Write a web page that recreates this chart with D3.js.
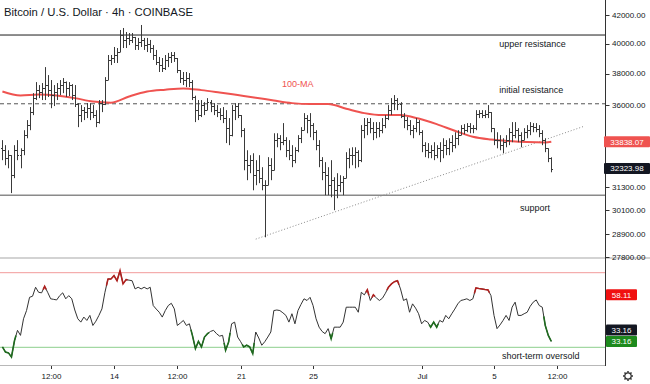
<!DOCTYPE html>
<html><head><meta charset="utf-8">
<script src="https://cdn.jsdelivr.net/npm/d3@7"></script>
<style>html,body{margin:0;padding:0;background:#fff;} svg{display:block;font-family:"Liberation Sans",Arial,sans-serif;}</style>
</head><body><svg id="c" width="650" height="384"></svg>
<script>
// ---------- data ----------
const title = "Bitcoin / U.S. Dollar · 4h · COINBASE";
const firstBar = "2021-06-07T20:00:00Z";   // 4h bars
const barHours = 4;
const open = [33500,33350,32900,33070,31960,33350,33070,33350,34220,34810,35590,36450,36950,36830,37080,37270,36950,36640,36830,37080,37270,37460,37080,37270,36640,36080,35410,35710,35590,35830,35590,35410,34990,36140,36080,37590,38900,39030,39230,39430,40590,40250,40390,40250,40460,39900,40110,40250,39900,39970,39700,39230,38770,38565,38370,38900,39100,39230,39030,38240,37720,37590,37720,37460,36520,35710,35410,36020,35710,36200,35960,35710,35590,35410,35230,34630,34220,35710,35960,35410,34510,32790,32510,32790,31960,32230,31800,31420,31420,32510,32230,33930,34040,33810,33930,33350,33070,32790,33350,34040,34510,35230,35110,34810,34390,33640,32790,32120,31960,31420,31690,31150,31420,31580,31800,32900,33070,33070,33240,32790,34510,34810,34990,34630,34390,34630,34510,34810,35230,35710,36140,36330,36080,35350,35110,34810,34510,34630,34990,34390,33640,33350,33240,33350,33070,33460,33350,33640,33460,33810,33640,34040,34220,34630,34510,34750,34630,34630,35470,35530,35410,35470,35590,34630,33930,33930,33640,33810,33930,34390,34220,34510,34220,33930,34390,34510,34750,34690,34570,34330,33930,33460,32900];
const high = [33930,33640,33350,33070,33640,33930,33460,34510,35110,35900,36760,37460,37270,37400,38430,37910,37590,37270,37400,37590,37720,37500,37460,37330,37270,36140,36020,35900,36140,36140,36020,35710,36330,36330,37780,39230,39230,39770,39700,40940,41080,40800,40730,40730,40460,40390,41290,40390,40390,40250,39900,39570,39100,39030,39230,39370,39430,39430,39030,38240,38110,38110,38040,37590,36600,36330,36330,36200,36450,36330,36140,36020,35830,35900,35710,35230,36020,36140,36140,35410,34630,33350,33070,33180,32790,33070,32400,31690,32960,32900,34330,34330,34220,34930,34100,33930,33640,33520,34220,34690,35530,35410,35530,34930,34510,33930,32960,32680,32400,32790,31850,32070,31960,31910,33240,33460,33520,33520,33350,34810,35230,35230,35230,34990,34990,34990,35230,35410,36020,36450,36640,36450,36200,35530,35290,35110,34810,35230,35110,34510,33810,33760,33640,33810,33640,33810,34040,33930,34040,34220,34390,34510,34810,34870,34930,34930,34810,35710,35710,35710,35710,36020,35590,34630,34390,34220,34040,34220,34630,34990,34990,34630,34390,34630,34810,34990,34930,34930,34810,34510,34040,33460,32950];
const low = [32790,32510,32340,31000,31800,32790,32340,33070,34040,34510,35410,36330,36450,36330,36330,36520,35830,35960,36330,36640,36760,36520,36580,36330,35900,34690,34990,35110,35230,35110,35230,34690,34900,35590,36020,37590,38565,38700,38700,39430,39700,39700,39900,40040,39570,39570,39770,39570,39430,39370,38900,38565,38110,38110,38240,38430,38700,38770,38040,37400,37270,37140,37140,36330,34990,35110,35290,35410,35710,35590,35410,35290,35110,34930,33760,33640,34150,35110,35230,34100,32230,31690,32070,31150,31420,31530,31150,28750,31420,31690,32230,33520,33350,33640,32960,32790,32400,32620,33240,33760,34510,34330,34100,33930,33350,32400,31690,30890,30890,30780,30110,30730,31050,30890,31800,32340,32510,32340,32400,32680,34040,34220,34330,33930,34040,34100,34330,34630,35110,35410,35710,35710,35230,34630,34510,34220,34040,34390,34220,33240,32960,32900,32900,32790,32900,32680,32900,33070,33070,33240,33460,33640,34220,34270,34390,34330,34330,34510,35230,35230,35230,35230,34390,33640,33460,33350,33180,33520,33640,33810,34040,33810,33520,33930,34040,34220,34390,34390,34100,33640,33240,32680,32120];
const close = [33350,32900,33070,31960,33350,33070,33350,34220,34810,35590,36450,36950,36830,37080,37270,36950,36640,36830,37080,37270,37460,37080,37270,36640,36080,35410,35710,35590,35830,35590,35410,34990,36140,36080,37590,38900,39030,39230,39430,40590,40250,40390,40250,40460,39900,40110,40250,39900,39970,39700,39230,38770,38565,38370,38900,39100,39230,39030,38240,37720,37590,37720,37460,36520,35710,35410,36020,35710,36200,35960,35710,35590,35410,35230,34630,34220,35710,35960,35410,34510,32790,32510,32790,31960,32230,31800,31420,31420,32510,32230,33930,34040,33810,33930,33350,33070,32790,33350,34040,34510,35230,35110,34810,34390,33640,32790,32120,31960,31420,31690,31150,31420,31580,31800,32900,33070,33070,33240,32790,34510,34810,34990,34630,34390,34630,34510,34810,35230,35710,36140,36330,36080,35350,35110,34810,34510,34630,34990,34390,33640,33350,33240,33350,33070,33460,33350,33640,33460,33810,33640,34040,34220,34630,34510,34750,34630,34630,35470,35530,35410,35470,35590,34630,33930,33930,33640,33810,33930,34390,34220,34510,34220,33930,34390,34510,34750,34690,34570,34330,33930,33460,32900,32323.98];
// 100-period moving average, read at every 6th bar
const maBars = [0,6,12,18,24,30,36,42,48,54,60,66,72,78,84,90,96,102,108,114,120,126,132,138,144,150,156,162,168,174,180,182];
const maValues = [36860,36610,36670,36610,36450,36240,36170,36550,36860,36980,37060,36950,36800,36640,36480,36300,36140,36080,36080,35800,35530,35410,35410,35200,34870,34480,34130,33970,33880,33820,33800,33838.07];
// RSI, one value per bar
const rsi = [30.2,27.5,27.0,24.8,33.5,39.1,36.4,45.3,49.7,56.8,57.4,62.2,59.5,59.2,62.7,59.5,56.0,55.7,55.4,57.7,59.2,56.0,57.7,56.0,50.0,45.3,43.5,46.2,44.4,47.1,41.7,44.0,47.1,50.6,59.5,66.6,66.6,68.4,65.7,71.1,64.0,66.3,66.0,65.7,61.3,62.2,61.3,62.2,61.3,62.2,52.4,50.5,48.8,46.2,49.7,52.4,53.6,50.6,41.7,43.0,44.4,41.7,42.6,36.4,29.3,33.2,30.2,35.5,37.3,38.5,39.1,37.3,36.0,36.4,28.4,32.8,42.6,43.5,35.5,33.0,30.2,31.1,30.2,26.6,38.2,35.0,31.1,33.0,35.5,38.2,49.7,50.0,49.7,48.5,47.1,43.5,48.0,42.6,49.7,53.0,56.0,55.1,56.8,52.4,45.3,40.8,38.5,37.3,40.0,34.6,40.8,40.8,40.8,43.5,51.5,51.5,51.5,51.5,48.8,59.5,58.1,60.8,55.1,58.1,56.5,55.1,56.3,59.0,62.2,64.0,65.2,65.7,61.3,55.1,56.0,48.8,53.3,51.0,48.0,42.6,44.4,43.5,40.8,43.5,40.8,44.4,43.5,47.1,45.3,48.0,50.5,53.3,55.1,55.5,56.0,55.1,56.0,61.8,61.5,61.3,61.0,60.8,57.7,47.1,40.0,42.0,44.4,47.1,44.4,51.5,54.2,47.1,47.1,48.0,48.8,52.0,54.2,55.4,52.4,51.5,41.7,36.4,33.16];
const rsiHot = [[14,14],[35,41],[121,121],[123,123],[128,131],[157,161]];
const rsiCold = [[0,4],[63,68],[74,75],[80,83],[109,109],[142,144],[180,182]];
const rsiUpper = 70, rsiLower = 30;
const rsiSignal = 58.11;
// levels
const upperResistance = 40590, initialResistance = 36100, supportLevel = 30890;
const trendStart = {t:"2021-06-21T20:00:00Z", p:28660}, trendEnd = {t:"2021-07-10T00:00:00Z", p:34750};
const priceTicks = [42000,40000,38000,36000,31300,30100,28900,27800];
const timeTicks = ["2021-06-10T12:00:00Z","2021-06-14T00:00:00Z","2021-06-17T12:00:00Z","2021-06-21T00:00:00Z","2021-06-25T00:00:00Z","2021-07-01T00:00:00Z","2021-07-05T00:00:00Z","2021-07-08T12:00:00Z"];
const timeLabels = ["12:00","14","12:00","21","25","Jul","5","12:00"];
const notes = [
  {text:"upper resistance", t:"2021-07-05T07:00:00Z", p:39770, color:"#131722"},
  {text:"initial resistance", t:"2021-07-05T07:00:00Z", p:36780, color:"#131722"},
  {text:"support", t:"2021-07-06T10:30:00Z", p:30070, color:"#131722"},
  {text:"100-MA", t:"2021-06-23T06:40:00Z", p:37150, color:"#ef5350"}
];

// ---------- layout ----------
const svg = d3.select("#c");
const axisX = 605.5;
const priceTop = 0, priceBottom = 258, rsiTop = 259, rsiBottom = 366;
const x = d3.scaleUtc().domain([new Date("2021-06-14T00:00:00Z"), new Date("2021-07-05T00:00:00Z")]).range([114, 494]);
const y = d3.scaleLog().domain([27800, 42000]).range([257, 15]);
const yr = d3.scaleLinear().domain([30, 70]).range([347.3, 272.7]);
const t0 = new Date(firstBar).getTime();
const bt = i => new Date(t0 + i * barHours * 3600e3);
const fmt = d3.format(".2f");

svg.append("rect").attr("width",650).attr("height",384).attr("fill","#fff");
const defs = svg.append("defs");
defs.append("clipPath").attr("id","cp").append("rect").attr("x",0).attr("y",priceTop).attr("width",axisX).attr("height",priceBottom-priceTop);
defs.append("clipPath").attr("id","cr").append("rect").attr("x",0).attr("y",rsiTop).attr("width",axisX).attr("height",rsiBottom-rsiTop);

const gp = svg.append("g").attr("clip-path","url(#cp)");
// levels
gp.append("line").attr("x1",0).attr("x2",axisX).attr("y1",y(upperResistance)).attr("y2",y(upperResistance)).attr("stroke","#1c1c1c").attr("stroke-width",1);
gp.append("line").attr("x1",0).attr("x2",axisX).attr("y1",y(initialResistance)).attr("y2",y(initialResistance)).attr("stroke","#555").attr("stroke-width",1).attr("stroke-dasharray","4,3");
gp.append("line").attr("x1",0).attr("x2",axisX).attr("y1",y(supportLevel)).attr("y2",y(supportLevel)).attr("stroke","#8a8a8a").attr("stroke-width",1.6);
gp.append("line").attr("x1",x(new Date(trendStart.t))).attr("y1",y(trendStart.p)).attr("x2",x(new Date(trendEnd.t))).attr("y2",y(trendEnd.p))
  .attr("stroke","#8a8a8a").attr("stroke-width",1).attr("stroke-dasharray","1,2");
// MA
gp.append("path").datum(maBars.map((b,k)=>[x(bt(b)), y(maValues[k])]))
  .attr("d", d3.line().curve(d3.curveMonotoneX)).attr("fill","none").attr("stroke","#ef5350").attr("stroke-width",2);
// bars
let d = "";
close.forEach((c,i)=>{
  const xi = Math.round(x(bt(i))) + 0.5;
  const yo = Math.round(y(open[i])) + 0.5, yc = Math.round(y(c)) + 0.5;
  d += `M${xi},${y(high[i])}V${y(low[i])}M${xi-1.5},${yo}H${xi}M${xi},${yc}H${xi+1.5}`;
});
gp.append("path").attr("d",d).attr("stroke","#3a3a3a").attr("stroke-width",1).attr("fill","none");
// notes
notes.forEach(n=>{
  svg.append("text").attr("x",x(new Date(n.t))).attr("y",y(n.p)).attr("font-size",9).attr("fill",n.color).text(n.text);
});

// RSI pane
const gr = svg.append("g").attr("clip-path","url(#cr)");
gr.append("line").attr("x1",0).attr("x2",axisX).attr("y1",yr(rsiUpper)).attr("y2",yr(rsiUpper)).attr("stroke","#f29a9a").attr("stroke-width",1);
gr.append("line").attr("x1",0).attr("x2",axisX).attr("y1",yr(rsiLower)).attr("y2",yr(rsiLower)).attr("stroke","#8ccf8c").attr("stroke-width",1);
const rpts = rsi.map((v,i)=>[x(bt(i)), yr(v)]);
gr.append("path").datum(rpts).attr("d", d3.line()).attr("fill","none").attr("stroke","#333").attr("stroke-width",1);
function seg(r){
  const [a,b] = r; const pts = [];
  if (a>0) pts.push([(rpts[a-1][0]+rpts[a][0])/2,(rpts[a-1][1]+rpts[a][1])/2]);
  for (let i=a;i<=b;i++) pts.push(rpts[i]);
  if (b<rpts.length-1) pts.push([(rpts[b+1][0]+rpts[b][0])/2,(rpts[b+1][1]+rpts[b][1])/2]);
  return pts;
}
rsiHot.forEach(r=>gr.append("path").datum(seg(r)).attr("d",d3.line()).attr("fill","none").attr("stroke","#b0201e").attr("stroke-width",1.6));
rsiCold.forEach(r=>gr.append("path").datum(seg(r)).attr("d",d3.line()).attr("fill","none").attr("stroke","#1f6b1f").attr("stroke-width",1.6));
svg.append("text").attr("x",502).attr("y",yr(rsiLower)+12).attr("font-size",9).attr("fill","#131722").text("short-term oversold");

// frame lines
svg.append("line").attr("x1",0).attr("x2",650).attr("y1",priceBottom).attr("y2",priceBottom).attr("stroke","#c4c4c4").attr("stroke-width",1.6);
svg.append("line").attr("x1",0).attr("x2",axisX).attr("y1",rsiBottom-0.5).attr("y2",rsiBottom-0.5).attr("stroke","#b8b8b8").attr("stroke-width",1);
svg.append("line").attr("x1",axisX).attr("x2",axisX).attr("y1",0).attr("y2",rsiBottom).attr("stroke","#333").attr("stroke-width",1);

// price axis
const pa = svg.append("g");
priceTicks.forEach(p=>{
  pa.append("line").attr("x1",axisX).attr("x2",axisX+4).attr("y1",Math.round(y(p))+0.5).attr("y2",Math.round(y(p))+0.5).attr("stroke","#333");
  pa.append("text").attr("x",612).attr("y",y(p)).attr("dy","0.35em").attr("font-size",8).attr("fill","#131722").text(fmt(p));
});
function box(val, yy, fill, x0, w){
  svg.append("rect").attr("x",x0).attr("y",yy-5.5).attr("width",w).attr("height",11).attr("fill",fill).attr("rx",1);
  svg.append("text").attr("x",x0+w/2).attr("y",yy).attr("dy","0.35em").attr("text-anchor","middle").attr("font-size",8).attr("fill","#fff").text(fmt(val));
}
box(maValues[maValues.length-1], y(maValues[maValues.length-1]), "#ef5350", 604, 46);
box(close[close.length-1], y(close[close.length-1]), "#131722", 604, 46);
box(rsiSignal, yr(rsiSignal), "#f01010", 606, 31);
box(rsi[rsi.length-1], yr(rsi[rsi.length-1]) - 11.5, "#131722", 606, 31);
box(rsi[rsi.length-1], yr(rsi[rsi.length-1]), "#1d8a1d", 606, 31);

// time axis
timeTicks.forEach((t,k)=>{
  const xx = Math.round(x(new Date(t)))+0.5;
  svg.append("line").attr("x1",xx).attr("x2",xx).attr("y1",rsiBottom).attr("y2",rsiBottom+3).attr("stroke","#333");
  svg.append("text").attr("x",xx).attr("y",379).attr("text-anchor","middle").attr("font-size",8).attr("fill","#131722").text(timeLabels[k]);
});

// title
svg.append("text").attr("x",4).attr("y",16).attr("font-size",11.3).attr("fill","#131722").text(title);

// gear
const gear = svg.append("g").attr("transform","translate(628,376)").attr("stroke","#333").attr("fill","none");
gear.append("circle").attr("r",3.2).attr("stroke-width",1.2);
d3.range(8).forEach(k=>{
  const a = k*Math.PI/4;
  gear.append("line").attr("x1",3.2*Math.cos(a)).attr("y1",3.2*Math.sin(a)).attr("x2",5*Math.cos(a)).attr("y2",5*Math.sin(a)).attr("stroke-width",1.5);
});
</script></body></html>
